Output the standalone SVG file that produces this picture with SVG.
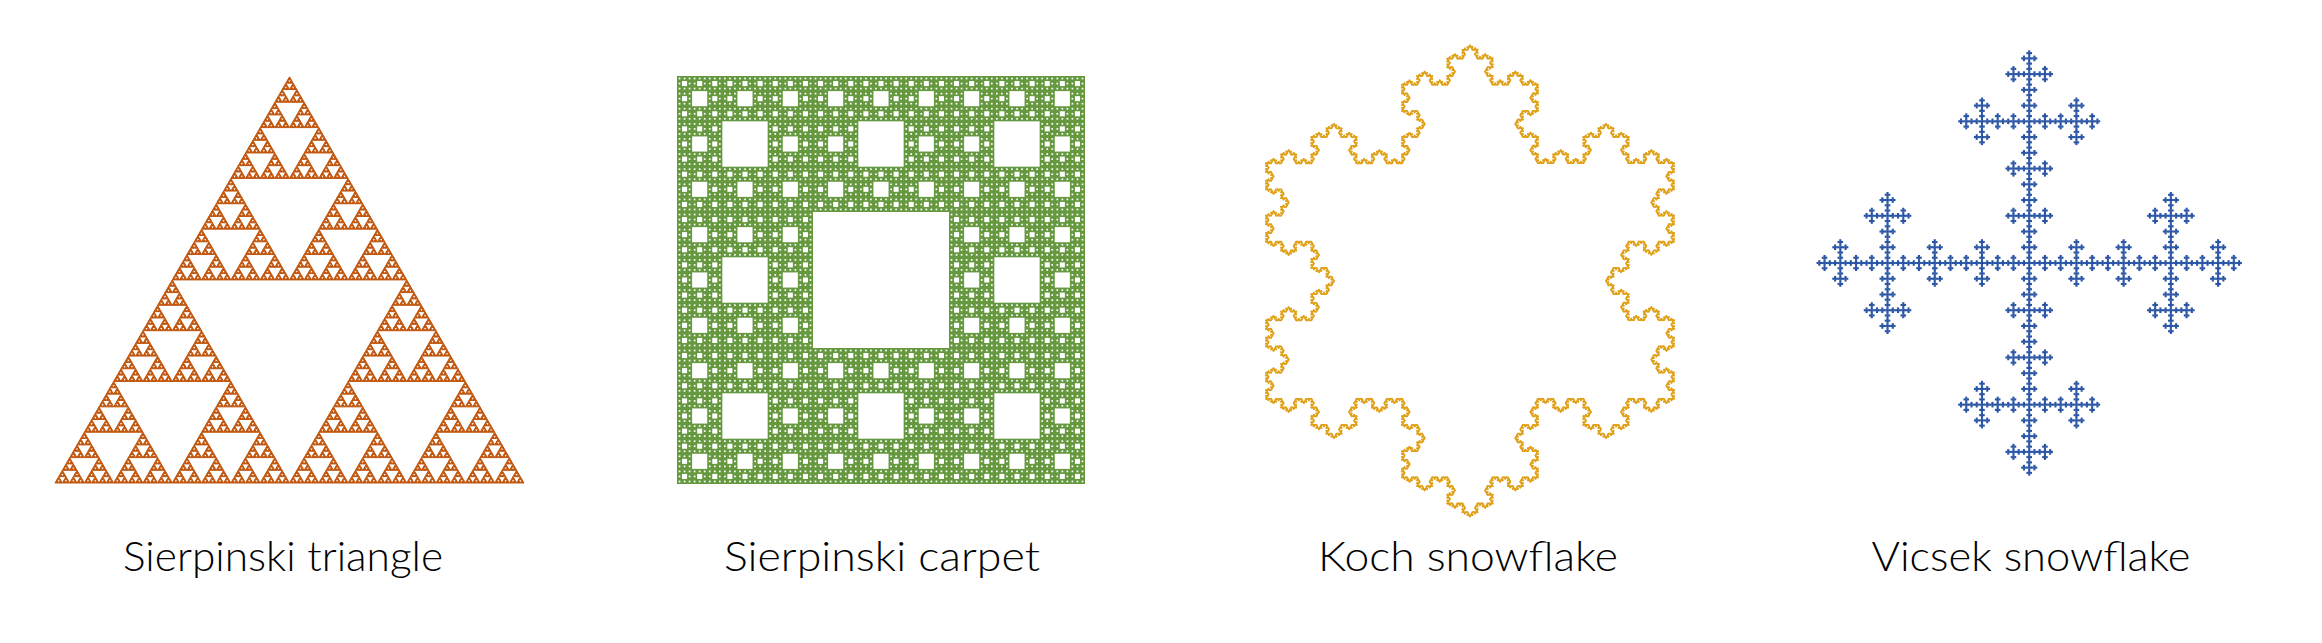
<svg xmlns="http://www.w3.org/2000/svg" xmlns:xlink="http://www.w3.org/1999/xlink" width="2322" height="643" viewBox="0 0 2322 643">
<style>
.lbl{font-family:Lato,"Open Sans","Liberation Sans",sans-serif;font-weight:300;font-size:41px;fill:#000;text-anchor:middle}
.tri{fill:#C1560E;stroke:#C1560E;stroke-width:1;stroke-linejoin:round}
.carpet{fill:#66993F}
.hole{fill:#fff}
.koch{stroke:#E0A21C;stroke-width:1.8;stroke-linecap:round;fill:none}
.vic{fill:#2A55A5}
</style>
<defs>
<polygon id="s0" class="tri" points="0,0 3.6641,0 1.83203,-3.17317"/>
<g id="s1"><use href="#s0"/><use href="#s0" x="3.6641"/><use href="#s0" x="1.83203" y="-3.17317"/></g>
<g id="s2"><use href="#s1"/><use href="#s1" x="7.328125"/><use href="#s1" x="3.6640625" y="-6.34634"/></g>
<g id="s3"><use href="#s2"/><use href="#s2" x="14.65625"/><use href="#s2" x="7.328125" y="-12.69268"/></g>
<g id="s4"><use href="#s3"/><use href="#s3" x="29.3125"/><use href="#s3" x="14.65625" y="-25.38536"/></g>
<g id="s5"><use href="#s4"/><use href="#s4" x="58.625"/><use href="#s4" x="29.3125" y="-50.77072"/></g>
<g id="s6"><use href="#s5"/><use href="#s5" x="117.25"/><use href="#s5" x="58.625" y="-101.54145"/></g>
<g id="s7"><use href="#s6"/><use href="#s6" x="234.5"/><use href="#s6" x="117.25" y="-203.0829"/></g>

<rect id="h1" class="hole" x="1.679012" y="1.679012" width="1.679012" height="1.679012"/>
<g id="h2"><rect class="hole" x="5.037037" y="5.037037" width="5.037037" height="5.037037"/>
<use href="#h1"/><use href="#h1" x="5.037037"/><use href="#h1" x="10.074074"/>
<use href="#h1" y="5.037037"/><use href="#h1" x="10.074074" y="5.037037"/>
<use href="#h1" y="10.074074"/><use href="#h1" x="5.037037" y="10.074074"/><use href="#h1" x="10.074074" y="10.074074"/></g>
<g id="h3"><rect class="hole" x="15.111111" y="15.111111" width="15.111111" height="15.111111"/>
<use href="#h2"/><use href="#h2" x="15.111111"/><use href="#h2" x="30.222222"/>
<use href="#h2" y="15.111111"/><use href="#h2" x="30.222222" y="15.111111"/>
<use href="#h2" y="30.222222"/><use href="#h2" x="15.111111" y="30.222222"/><use href="#h2" x="30.222222" y="30.222222"/></g>
<g id="h4"><rect class="hole" x="45.333333" y="45.333333" width="45.333333" height="45.333333"/>
<use href="#h3"/><use href="#h3" x="45.333333"/><use href="#h3" x="90.666667"/>
<use href="#h3" y="45.333333"/><use href="#h3" x="90.666667" y="45.333333"/>
<use href="#h3" y="90.666667"/><use href="#h3" x="45.333333" y="90.666667"/><use href="#h3" x="90.666667" y="90.666667"/></g>
<g id="h5"><rect class="hole" x="136" y="136" width="136" height="136"/>
<use href="#h4"/><use href="#h4" x="136"/><use href="#h4" x="272"/>
<use href="#h4" y="136"/><use href="#h4" x="272" y="136"/>
<use href="#h4" y="272"/><use href="#h4" x="136" y="272"/><use href="#h4" x="272" y="272"/></g>

<line id="k0" class="koch" x1="0" y1="0" x2="1.679012" y2="0"/>
<g id="k1"><use href="#k0"/><use href="#k0" transform="translate(1.679012,0) rotate(-60)"/><use href="#k0" transform="translate(2.518519,-1.454067) rotate(60)"/><use href="#k0" transform="translate(3.358025,0)"/></g>
<g id="k2"><use href="#k1"/><use href="#k1" transform="translate(5.037037,0) rotate(-60)"/><use href="#k1" transform="translate(7.555556,-4.362200) rotate(60)"/><use href="#k1" transform="translate(10.074074,0)"/></g>
<g id="k3"><use href="#k2"/><use href="#k2" transform="translate(15.111111,0) rotate(-60)"/><use href="#k2" transform="translate(22.666667,-13.086601) rotate(60)"/><use href="#k2" transform="translate(30.222222,0)"/></g>
<g id="k4"><use href="#k3"/><use href="#k3" transform="translate(45.333333,0) rotate(-60)"/><use href="#k3" transform="translate(68,-39.259818) rotate(60)"/><use href="#k3" transform="translate(90.666667,0)"/></g>
<g id="k5"><use href="#k4"/><use href="#k4" transform="translate(136,0) rotate(-60)"/><use href="#k4" transform="translate(204,-117.779454) rotate(60)"/><use href="#k4" transform="translate(272,0)"/></g>

<rect id="v0" class="vic" x="-1.05" y="-1.05" width="2.1" height="2.1"/>
<g id="v1"><use href="#v0"/><use href="#v0" x="1.748971"/><use href="#v0" x="-1.748971"/><use href="#v0" y="1.748971"/><use href="#v0" y="-1.748971"/></g>
<g id="v2"><use href="#v1"/><use href="#v1" x="5.246914"/><use href="#v1" x="-5.246914"/><use href="#v1" y="5.246914"/><use href="#v1" y="-5.246914"/></g>
<g id="v3"><use href="#v2"/><use href="#v2" x="15.740741"/><use href="#v2" x="-15.740741"/><use href="#v2" y="15.740741"/><use href="#v2" y="-15.740741"/></g>
<g id="v4"><use href="#v3"/><use href="#v3" x="47.222222"/><use href="#v3" x="-47.222222"/><use href="#v3" y="47.222222"/><use href="#v3" y="-47.222222"/></g>
<g id="v5"><use href="#v4"/><use href="#v4" x="141.666667"/><use href="#v4" x="-141.666667"/><use href="#v4" y="141.666667"/><use href="#v4" y="-141.666667"/></g>
</defs>

<rect width="2322" height="643" fill="#fff"/>

<g id="sierpinski-triangle">
<use href="#s7" x="55" y="483"/>
<text class="lbl" x="283" y="571" textLength="320" lengthAdjust="spacingAndGlyphs">Sierpinski triangle</text>
</g>

<g id="sierpinski-carpet">
<rect class="carpet" x="677" y="76" width="408" height="408"/>
<use href="#h5" x="677" y="76"/>
<text class="lbl" x="882" y="571" textLength="316" lengthAdjust="spacingAndGlyphs">Sierpinski carpet</text>
</g>

<g id="koch-snowflake">
<use href="#k5" transform="translate(1266,398.8) rotate(-60)"/>
<use href="#k5" transform="translate(1470,45.4) rotate(60)"/>
<use href="#k5" transform="translate(1674,398.8) rotate(180)"/>
<text class="lbl" x="1468" y="571" textLength="300" lengthAdjust="spacingAndGlyphs">Koch snowflake</text>
</g>

<g id="vicsek-snowflake">
<use href="#v5" x="2029.2" y="263"/>
<text class="lbl" x="2031" y="571" textLength="319" lengthAdjust="spacingAndGlyphs">Vicsek snowflake</text>
</g>

<g id="connectors"/>
</svg>
